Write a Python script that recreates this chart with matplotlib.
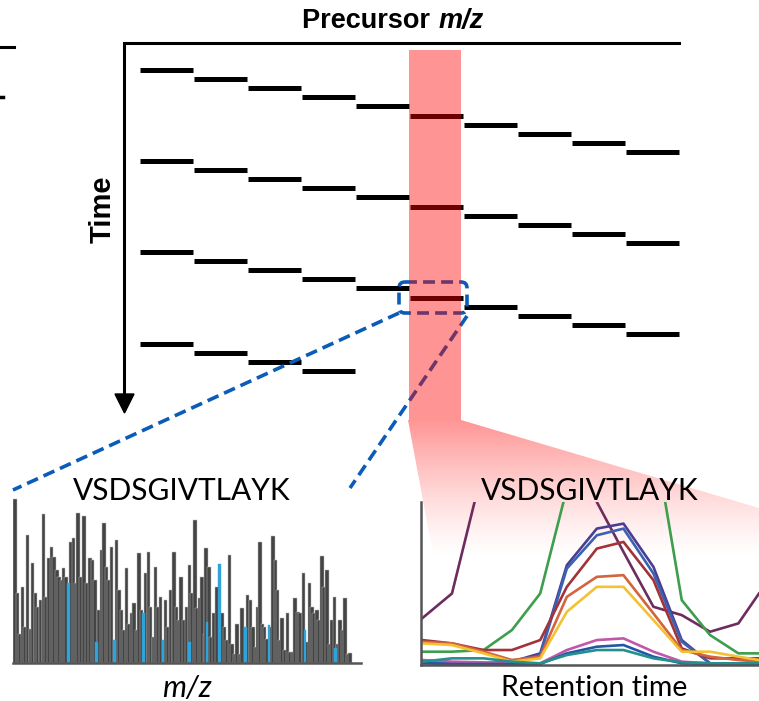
import numpy as np
import matplotlib.pyplot as plt
from matplotlib.patches import Polygon, Rectangle, FancyBboxPatch

W, H = 759, 701

# DIA scheme: precursor m/z window edges and cycle start times (schematic units)
mz_edges = [139, 193, 247, 301, 355, 409, 463, 517, 571, 625, 679]
cycle_start = [70, 161, 252, 344]
windows_per_cycle = [10, 10, 10, 4]
window_dt = 9.1
sel_lo, sel_hi = 409, 461

# MS2 spectrum (arbitrary m/z units)
spec_mz = [42, 50, 57, 64, 72, 80, 88, 95, 103, 110, 118, 128, 135, 145, 152, 160, 168, 175, 182, 188,
           195, 210, 218, 225, 232, 240, 250, 258, 268, 275, 282, 295, 302, 310, 318, 325, 333, 348, 355, 362,
           370, 378, 385, 392, 400, 408, 415, 422, 435, 443, 450, 458, 465, 472, 480, 495, 502, 510, 520, 528,
           535, 542, 550, 558, 567, 575, 583, 590, 598, 605, 612, 616, 625, 632, 640, 650, 665, 672, 680, 687,
           695, 702, 710, 718, 725, 742, 750, 758, 765, 772, 779, 786, 792, 800, 812, 818, 825, 832, 840, 846,
           855, 862, 870, 878, 885, 893, 900, 910, 920, 928, 935, 942, 950, 957, 965, 972, 980, 988, 996, 1003,
           1012, 1020, 1028, 1035, 1043, 1050]
spec_int = [491, 208, 88, 228, 108, 383, 103, 298, 208, 168, 188, 445, 198, 313, 348, 318, 278, 258, 248, 283,
            258, 363, 373, 238, 448, 258, 438, 238, 313, 308, 248, 158, 338, 418, 288, 248, 348, 368, 218, 158,
            98, 283, 118, 148, 178, 98, 328, 158, 268, 333, 168, 78, 288, 168, 198, 188, 108, 218, 333, 168,
            128, 258, 128, 168, 293, 208, 428, 163, 193, 258, 88, 343, 288, 78, 148, 228, 148, 108, 68, 323,
            58, 28, 118, 28, 163, 203, 188, 108, 48, 168, 363, 118, 108, 73, 108, 378, 308, 218, 68, 133,
            38, 148, 33, 33, 193, 153, 148, 268, 63, 238, 168, 148, 158, 128, 320, 228, 278, 58, 128, 198,
            58, 128, 98, 193, 28, 30]
frag_mz = [203, 288, 342, 428, 487, 567, 620, 658, 735, 806, 915, 1006]
frag_int = [238, 63, 68, 148, 68, 63, 123, 295, 108, 115, 98, 45]

# extracted fragment ion chromatograms
rt = [65, 155, 250, 335, 420, 500, 590, 670, 760, 845, 930, 1015, 1077]
xic_colors = ['#6E2C5E', '#3E9E4E', '#4A3E92', '#3A62B2', '#A3323A',
              '#D2643E', '#F2C232', '#C256A8', '#2456A6', '#23908E']
xic = [
    [140, 215, 600, 900, 900, 800, 490, 340, 175, 150, 100, 125, 215],
    [40, 40, 45, 105, 215, 530, 800, 800, 700, 195, 90, 35, 35],
    [10, 8, 5, 10, 35, 300, 410, 425, 295, 75, 5, 5, 5],
    [8, 5, 5, 8, 30, 290, 390, 410, 275, 70, 5, 3, 3],
    [75, 65, 45, 45, 75, 235, 350, 370, 255, 50, 20, 20, 20],
    [70, 65, 40, 15, 25, 205, 265, 270, 155, 45, 25, 15, 10],
    [65, 60, 35, 10, 20, 160, 235, 235, 135, 40, 40, 25, 15],
    [15, 10, 8, 5, 5, 45, 75, 80, 40, 10, 5, 5, 5],
    [5, 3, 3, 3, 3, 35, 55, 60, 25, 5, 3, 3, 3],
    [10, 20, 20, 10, 5, 30, 45, 45, 20, 8, 5, 5, 5],
]

peptide = 'VSDSGIVTLAYK'
blue = '#0A5CB8'
dash = (0, (3.3, 1.7))

fig = plt.figure(figsize=(W / 100, H / 100), dpi=100)
ax = fig.add_axes([0, 0, 1, 1])
ax.set_xlim(0, W)
ax.set_ylim(H, 0)
ax.axis('off')

# axes of the scheme
ax.plot([679, 124, 124], [43, 43, 396], color='black', lw=2.2, solid_joinstyle='miter', zorder=2)
ax.add_patch(Polygon([[115, 394], [134, 394], [124.5, 413]], closed=True, color='black', zorder=2))
ax.plot([0, 14], [47, 47], color='black', lw=2.2)
ax.plot([0, 3], [97, 97], color='black', lw=2.5)

ax.text(437, 21, 'Precursor ', fontsize=19.5, fontweight='bold', family='Liberation Sans',
        ha='right', va='center')
ax.text(439, 21, 'm/z', fontsize=19.5, fontweight='bold', style='italic', family='Liberation Sans',
        ha='left', va='center')
ax.text(103, 209, 'Time', fontsize=21, fontweight='bold', family='Liberation Sans',
        rotation=90, ha='center', va='center')

# isolation windows
for c, t0 in enumerate(cycle_start):
    for k in range(windows_per_cycle[c]):
        ax.hlines(t0 + k * window_dt, mz_edges[k] + 0.5, mz_edges[k + 1] - 0.5,
                  color='black', lw=3.6, capstyle='butt', zorder=2)

# zoom box and connectors
ax.add_patch(FancyBboxPatch((399, 282), 68, 31, boxstyle='round,pad=0,rounding_size=6',
                            fill=False, ec=blue, lw=2.6, ls=dash, zorder=3))
ax.plot([399, 13], [313, 490], color=blue, lw=2.6, ls=dash, zorder=3)
ax.plot([467, 350], [316, 488], color=blue, lw=2.6, ls=dash, zorder=3)

# selected window band
ax.add_patch(Rectangle((sel_lo, 50), sel_hi - sel_lo, 370, color='red', alpha=0.42, lw=0, zorder=5))
grad = np.zeros((200, 1, 4))
grad[:, 0, 0] = 1.0
grad[:, 0, 3] = 0.42 * np.linspace(1, 0, 200) ** 1.3
im = ax.imshow(grad, extent=[sel_lo - 1, W, 560, 420], aspect='auto', zorder=1, interpolation='bilinear')
fan = Polygon([[sel_lo - 1, 420], [sel_hi, 420], [W, 508], [W, 560], [434, 560]], closed=True,
              transform=ax.transData, facecolor='none', edgecolor='none')
ax.add_patch(fan)
im.set_clip_path(fan)
ax.set_xlim(0, W)
ax.set_ylim(H, 0)

ax.text(182, 500, peptide, fontsize=21.5, family='Lato', ha='center', va='baseline', zorder=6)
ax.text(590, 500, peptide, fontsize=21.5, family='Lato', ha='center', va='baseline', zorder=6)
ax.text(187, 688, 'm/z', fontsize=22, style='italic', family='Lato', ha='center', va='center')
ax.text(594, 688, 'Retention time', fontsize=20.5, family='Lato', ha='center', va='center')

# MS2 spectrum
ax1 = fig.add_axes([13 / W, (H - 663) / H, (361 - 13) / W, (663 - 498) / H])
ax1.patch.set_alpha(0)
ax1.bar(spec_mz, spec_int, width=10.5, color='#444444', edgecolor='#bdbdbd', linewidth=0.35)
ax1.bar(frag_mz, frag_int, width=8, color='#2FA3DA', edgecolor='#2FA3DA', linewidth=0.3)
ax1.set_xlim(36, 1083)
ax1.set_ylim(0, 493)
for s in ['top', 'right', 'left']:
    ax1.spines[s].set_visible(False)
ax1.spines['bottom'].set_color('#555555')
ax1.spines['bottom'].set_linewidth(1.8)
ax1.set_xticks([])
ax1.set_yticks([])

# fragment chromatograms
ax2 = fig.add_axes([421 / W, (H - 665) / H, (W - 421) / W, (665 - 502) / H])
ax2.patch.set_alpha(0)
for col, vals in zip(xic_colors, xic):
    ax2.plot(rt, vals, color=col, lw=1.9)
ax2.set_xlim(62, 1077)
ax2.set_ylim(0, 490)
for s in ['top', 'right']:
    ax2.spines[s].set_visible(False)
for s in ['left', 'bottom']:
    ax2.spines[s].set_color('#555555')
    ax2.spines[s].set_linewidth(1.8)
ax2.set_xticks([])
ax2.set_yticks([])

fig.savefig('out.png', dpi=100)
